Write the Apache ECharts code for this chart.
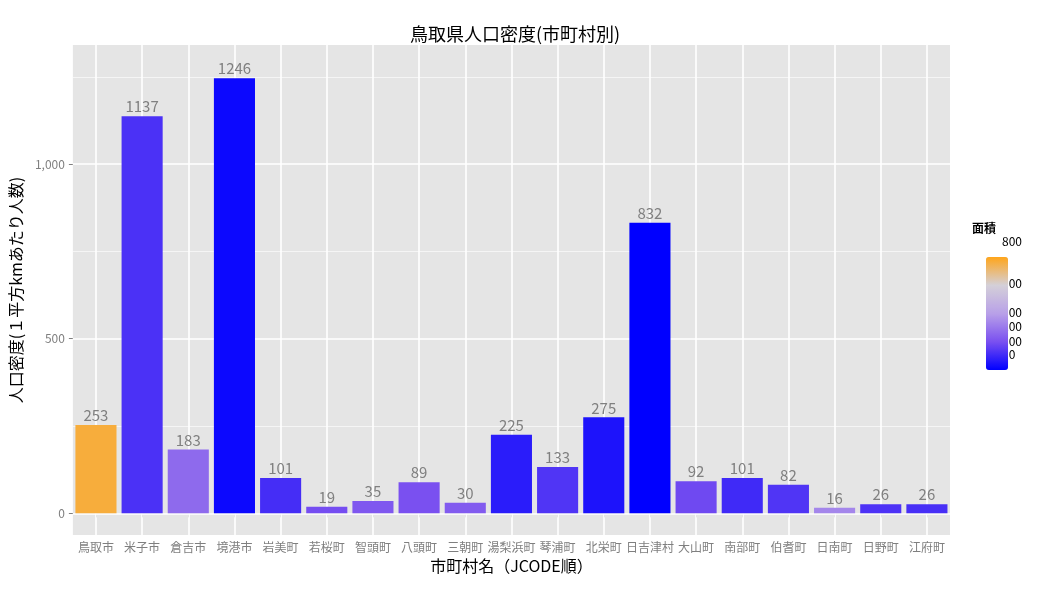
<!DOCTYPE html>
<html><head><meta charset="utf-8">
<script src="https://cdn.jsdelivr.net/npm/echarts@6/dist/echarts.min.js"></script>
<style>html,body{margin:0;background:#fff}#c{width:1062px;height:591px}</style>
</head><body><div id="c"></div>
<script>
var names = ['鳥取市','米子市','倉吉市','境港市','岩美町','若桜町','智頭町','八頭町','三朝町','湯梨浜町','琴浦町','北栄町','日吉津村','大山町','南部町','伯耆町','日南町','日野町','江府町'];
var density = [253,1137,183,1246,101,19,35,89,30,225,133,275,832,92,101,82,16,26,26];
var area = [765,132,272,29,122,199,225,207,234,78,140,57,4,190,114,140,341,134,125];
var legendTicks = [10,100,200,300,500,800];

var myChart = echarts.init(document.getElementById('c'));
var fs = "'Noto Sans CJK JP', sans-serif";

var barData = [];
for (var i = 0; i < names.length; i++) {
    barData.push([i, density[i], area[i]]);
}

// grid lines drawn as markLines
var lines = [];
[0, 500, 1000].forEach(function (v) { lines.push({yAxis: v, lineStyle: {width: 1.6}}); });
[250, 750, 1250].forEach(function (v) { lines.push({yAxis: v, lineStyle: {width: 0.6}}); });
names.forEach(function (n) { lines.push({xAxis: n, lineStyle: {width: 1.6}}); });

// legend tick labels, bar spans 10..800 over y 242..355
var lmin = 10, lmax = 800, ltop = 242, lbot = 355;
var gfx = legendTicks.map(function (t) {
    var y = lbot - (t - lmin) / (lmax - lmin) * (lbot - ltop);
    return {type: 'text', left: 1002, top: y - 7, style: {text: String(t), fontSize: 12, fill: '#000', fontFamily: fs}};
});
gfx.push({type: 'text', left: 972, top: 222, style: {text: '面積', fontSize: 12, fontWeight: 'bold', fill: '#000', fontFamily: fs}});

option = {
    textStyle: {fontFamily: fs},
    title: {text: '鳥取県人口密度(市町村別)', left: 510, top: 20, textAlign: 'center',
        textStyle: {fontSize: 18, fontWeight: 'normal', color: '#000', fontFamily: fs}},
    grid: {left: 70, right: 112, top: 45, bottom: 56, show: true, backgroundColor: '#E5E5E5', borderWidth: 0},
    visualMap: {
        type: 'continuous', min: lmin, max: lmax, dimension: 2, seriesIndex: 0,
        left: 971, top: ltop, itemWidth: 22, itemHeight: lbot - ltop,
        calculable: false, text: ['', ''], showLabel: false,
        inRange: {color: ['#0000ff', '#7a50f0', '#b8a0e8', '#d4d0d8', '#ffa51a']},
        textStyle: {color: 'transparent'}
    },
    xAxis: {
        type: 'category', data: names,
        name: '市町村名（JCODE順）', nameLocation: 'middle', nameGap: 18,
        nameTextStyle: {fontSize: 16, color: '#000'},
        axisLine: {show: false},
        axisTick: {show: true, alignWithLabel: true, length: 4, lineStyle: {color: '#7f7f7f'}},
        axisLabel: {fontSize: 12, color: '#7f7f7f', interval: 0, margin: 6},
        splitLine: {show: false}
    },
    yAxis: {
        type: 'value', min: -62, max: 1341,
        name: '人口密度(１平方kmあたり人数)', nameLocation: 'middle', nameGap: 45,
        nameTextStyle: {fontSize: 16, color: '#000'},
        axisLine: {show: false},
        axisTick: {show: true, length: 4, customValues: [0, 500, 1000], lineStyle: {color: '#7f7f7f'}},
        axisLabel: {fontSize: 12, color: '#7f7f7f', customValues: [0, 500, 1000]},
        splitLine: {show: false}
    },
    graphic: gfx,
    series: [{
        type: 'bar', data: barData, barCategoryGap: '11%',
        encode: {x: 0, y: 1},
        label: {show: true, position: 'top', distance: 2, fontSize: 15, color: '#808080',
            formatter: function (p) { return p.value[1]; }},
        markLine: {silent: true, symbol: 'none', label: {show: false}, z: 1,
            lineStyle: {color: '#ffffff', type: 'solid'}, data: lines},
        z: 3
    }],
    animation: false
};
myChart.setOption(option, true);
</script></body></html>
